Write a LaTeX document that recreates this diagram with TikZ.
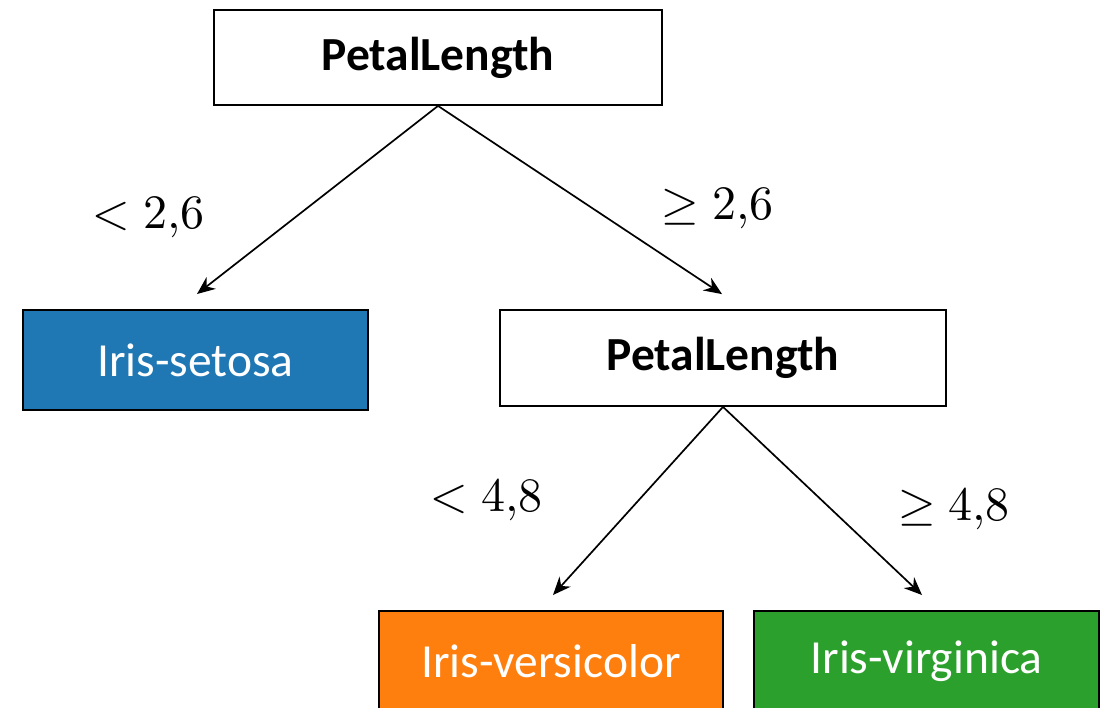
\documentclass[tikz,border=0pt]{standalone}
\usepackage{fontspec}
\usepackage{unicode-math}
\setmainfont{Carlito}
\setmathfont{Latin Modern Math}
\usetikzlibrary{arrows.meta}
\definecolor{setosaC}{HTML}{1F77B4}
\definecolor{versiC}{HTML}{FF7F0E}
\definecolor{virgC}{HTML}{2CA02C}
\tikzset{
  splitbox/.style={draw=black, line width=1.8pt, fill=white, inner sep=0pt, font=\fontsize{47.5}{50}\selectfont\bfseries},
  leafbox/.style={draw=black, line width=2pt, inner sep=0pt, text=white, font=\fontsize{47.5}{50}\selectfont},
  edge/.style={line width=1.7pt, -{Stealth[length=18pt,width=15pt]}},
  cond/.style={inner sep=0pt, font=\fontsize{48}{50}\selectfont}
}
\begin{document}
\begin{tikzpicture}[x=1pt,y=-1pt]
\clip (0,0) rectangle (1105,707);
\useasboundingbox (0,0) rectangle (1105,707);
\node[splitbox, minimum width=448pt, minimum height=95pt] (root) at (438,57.5) {PetalLength};
\node[splitbox, minimum width=446pt, minimum height=96pt] (mid) at (723,358) {PetalLength};
\node[leafbox, fill=setosaC, minimum width=345pt, minimum height=100pt] (setosa) at (195.5,360) {Iris-setosa};
\node[leafbox, fill=versiC, minimum width=344pt, minimum height=100pt] (versi) at (551,661) {Iris-versicolor};
\node[leafbox, fill=virgC, minimum width=345pt, minimum height=100pt] (virg) at (926.5,661) {Iris-virginica};
\draw[edge] (root.south) -- ([xshift=1.5pt,yshift=15pt]setosa.north);
\draw[edge] (root.south) -- ([xshift=-1pt,yshift=15pt]mid.north);
\draw[edge] (mid.south) -- ([xshift=2pt,yshift=15pt]versi.north);
\draw[edge] (mid.south) -- ([xshift=-4.5pt,yshift=15pt]virg.north);
\node[cond] (c1) at (149,217) {$<2{,}6$};
\node[cond] (c2) at (718,208) {$\geq 2{,}6$};
\node[cond] (c3) at (487,500) {$<4{,}8$};
\node[cond] (c4) at (954,509) {$\geq 4{,}8$};
\end{tikzpicture}
\end{document}
